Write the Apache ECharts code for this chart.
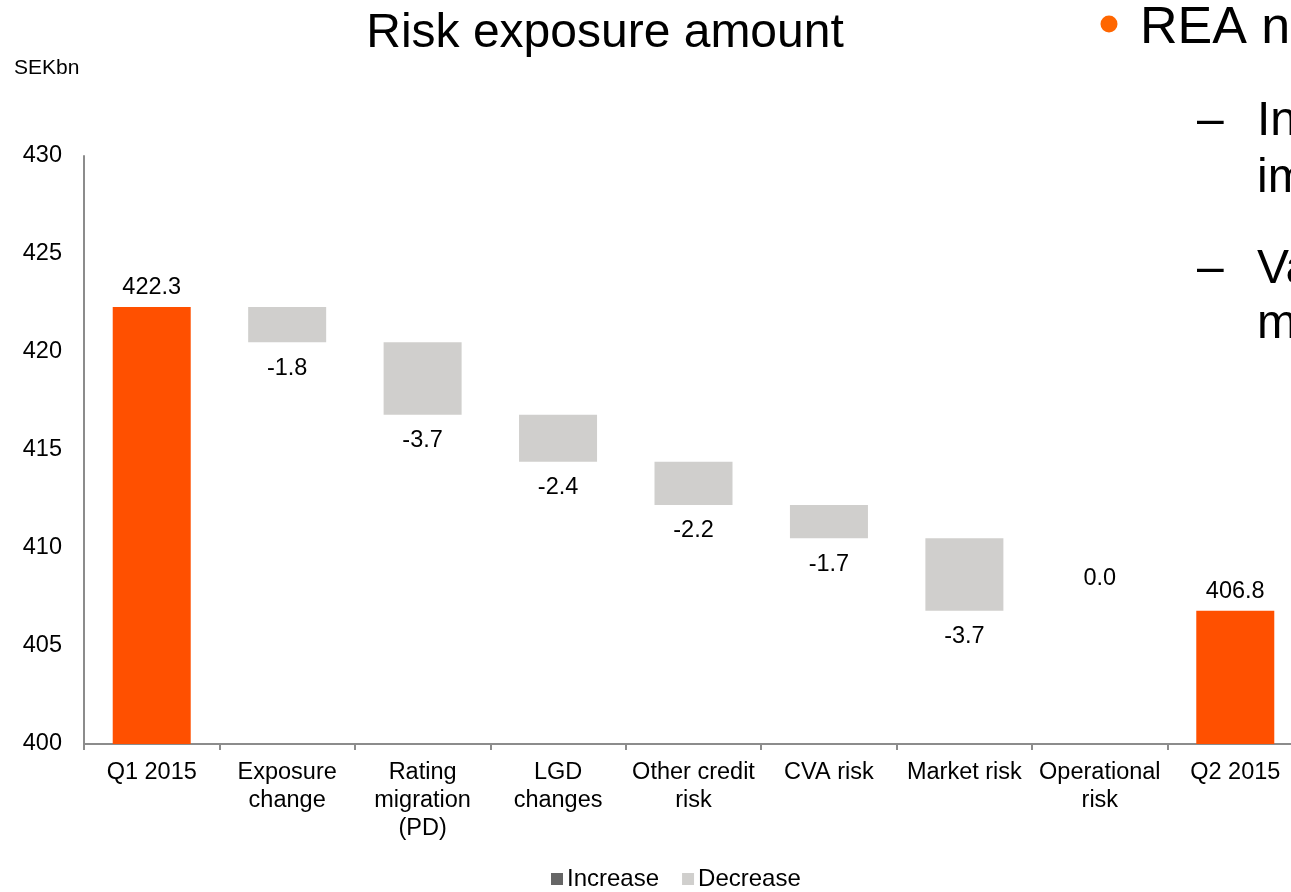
<!DOCTYPE html>
<html>
<head>
<meta charset="utf-8">
<script src="https://cdn.jsdelivr.net/npm/echarts@6/dist/echarts.min.js"></script>
<style>
  html, body { margin: 0; padding: 0; background: #fff; overflow: hidden; }
  #chart { width: 1303px; height: 892px; }
</style>
</head>
<body>
<div id="chart"></div>
<script>
// Waterfall of risk exposure amount, SEKbn
const categories = ['Q1 2015', 'Exposure\nchange', 'Rating\nmigration\n(PD)', 'LGD\nchanges',
  'Other credit\nrisk', 'CVA risk', 'Market risk', 'Operational\nrisk', 'Q2 2015'];
const totals = [422.3, null, null, null, null, null, null, null, 406.8];
const changes = [null, -1.8, -3.7, -2.4, -2.2, -1.7, -3.7, 0.0, null];
const yTicks = [400, 405, 410, 415, 420, 425, 430];

// Derive invisible base, increase and decrease stacks from the running level
let level = totals[0];
const base = [], inc = [], dec = [];
categories.forEach((c, i) => {
  if (totals[i] !== null) {
    base.push(null); inc.push(null); dec.push(null);
    level = totals[i];
    return;
  }
  const ch = changes[i];
  const next = +(level + ch).toFixed(1);
  if (ch > 0) {
    base.push(level); inc.push(ch); dec.push(null);
  } else {
    base.push(next); inc.push(null); dec.push(+(-ch).toFixed(1));
  }
  level = next;
});

const FONT = 'Liberation Sans, Arial, sans-serif';
const FS = 23.5;
const chart = echarts.init(document.getElementById('chart'), null, { renderer: 'canvas' });

chart.setOption({
  animation: false,
  textStyle: { fontFamily: FONT },
  legend: {
    data: ['Increase', 'Decrease'],
    top: 867, left: 551, padding: 0,
    icon: 'rect', itemWidth: 12, itemHeight: 12, itemGap: 23,
    textStyle: { fontFamily: FONT, fontSize: 24, color: '#000', padding: [0, 0, 0, -1] }
  },
  grid: { left: 84, right: 0, top: 156, bottom: 148, containLabel: false },
  xAxis: {
    type: 'category',
    data: categories,
    axisLine: { lineStyle: { color: '#8c8c8c', width: 2 } },
    axisTick: { show: true, length: 6, lineStyle: { color: '#8c8c8c', width: 2 } },
    axisLabel: { fontFamily: FONT, fontSize: FS, color: '#000', margin: 15, lineHeight: 28, interval: 0 }
  },
  yAxis: {
    type: 'value',
    min: yTicks[0], max: yTicks[yTicks.length - 1], interval: 5,
    splitLine: { show: false },
    axisLine: { show: true, lineStyle: { color: '#8c8c8c', width: 2 } },
    axisTick: { show: false },
    axisLabel: { fontFamily: FONT, fontSize: FS, color: '#000', margin: 22 }
  },
  series: [
    {
      name: 'base', type: 'bar', stack: 'w', data: base, barWidth: 78,
      itemStyle: { color: 'transparent' }, silent: true
    },
    {
      name: 'Increase', type: 'bar', stack: 'w', data: inc, barWidth: 78,
      itemStyle: { color: '#666666' }
    },
    {
      name: 'Decrease', type: 'bar', stack: 'w', data: dec.map((v, i) => {
        if (v === null) return null;
        const zero = v === 0;
        return {
          value: v,
          label: {
            show: true,
            position: zero ? 'top' : 'bottom',
            distance: zero ? 20 : 14,
            formatter: () => changes[i].toFixed(1)
          }
        };
      }), barWidth: 78,
      itemStyle: { color: '#d0cfcd' },
      label: { fontFamily: FONT, fontSize: FS, color: '#000' }
    },
    {
      name: 'Total', type: 'bar', stack: 'w', data: totals, barWidth: 78,
      itemStyle: { color: '#ff5000' },
      label: {
        show: true, position: 'top', distance: 7,
        fontFamily: FONT, fontSize: FS, color: '#000',
        formatter: p => p.value.toFixed(1)
      }
    }
  ],
  graphic: [
    { type: 'text', x: 605, y: 34, style: { text: 'Risk exposure amount', font: '48px ' + FONT, fill: '#000', align: 'center', verticalAlign: 'middle' } },
    { type: 'text', x: 14, y: 68, style: { text: 'SEKbn', font: '21px ' + FONT, fill: '#000', verticalAlign: 'middle' } },
    { type: 'circle', shape: { cx: 1109, cy: 24, r: 8.5 }, style: { fill: '#ff6600' } },
    { type: 'text', x: 1140, y: 29, style: { text: 'REA n', font: '52px ' + FONT, fill: '#000', verticalAlign: 'middle' } },
    { type: 'text', x: 1197, y: 122, style: { text: '–', font: '48px ' + FONT, fill: '#000', verticalAlign: 'middle' } },
    { type: 'text', x: 1257, y: 122, style: { text: 'In', font: '48px ' + FONT, fill: '#000', verticalAlign: 'middle' } },
    { type: 'text', x: 1257, y: 179, style: { text: 'im', font: '48px ' + FONT, fill: '#000', verticalAlign: 'middle' } },
    { type: 'text', x: 1197, y: 270, style: { text: '–', font: '48px ' + FONT, fill: '#000', verticalAlign: 'middle' } },
    { type: 'text', x: 1257, y: 270, style: { text: 'Va', font: '48px ' + FONT, fill: '#000', verticalAlign: 'middle' } },
    { type: 'text', x: 1257, y: 325, style: { text: 'm', font: '48px ' + FONT, fill: '#000', verticalAlign: 'middle' } }
  ]
});
</script>
</body>
</html>
